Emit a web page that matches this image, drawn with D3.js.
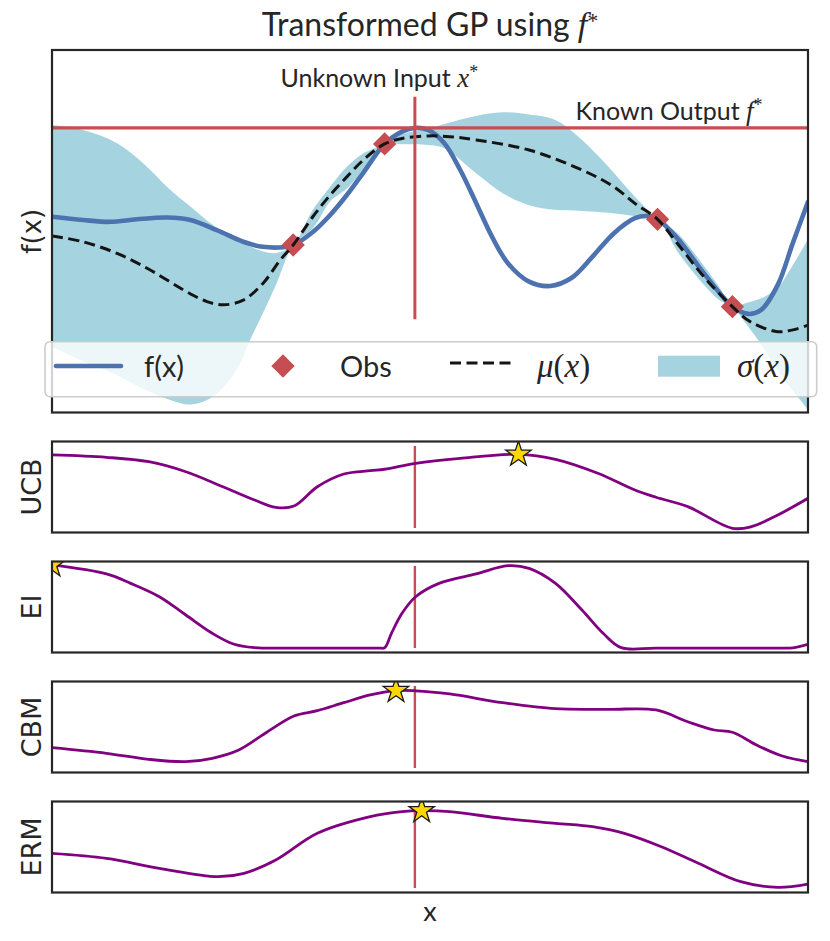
<!DOCTYPE html>
<html>
<head>
<meta charset="utf-8">
<script src="https://cdn.jsdelivr.net/npm/d3@7"></script>
<style>
  body { margin: 0; background: #fff; }
  svg { display: block; }
</style>
</head>
<body>
<div id="chart"></div>
<script>
// ---- data (x in [0,10], y in panel units [0,10]) ----
const fTrue = [[0,5.40],[0.41,5.31],[0.77,5.26],[1.12,5.33],[1.52,5.38],[1.83,5.31],[2.18,5.03],
  [2.53,4.71],[2.79,4.57],[3.06,4.56],[3.19,4.62],[3.45,4.98],[3.68,5.45],[3.90,6.00],[4.12,6.62],
  [4.40,7.41],[4.63,7.75],[4.80,7.85],[4.98,7.79],[5.19,7.43],[5.40,6.69],[5.61,5.78],[5.82,4.85],
  [6.03,4.12],[6.31,3.61],[6.59,3.49],[6.87,3.71],[7.15,4.30],[7.43,4.94],[7.71,5.36],[7.88,5.42],
  [8.01,5.33],[8.27,4.81],[8.55,4.04],[8.83,3.30],[9.00,2.92],[9.21,2.72],[9.38,2.83],[9.60,3.52],
  [9.80,4.68],[10,5.81]];

const muPost = [[0,4.87],[0.41,4.71],[0.86,4.39],[1.30,3.93],[1.74,3.38],[2.05,3.06],[2.27,2.97],
  [2.53,3.10],[2.79,3.56],[3.02,4.21],[3.19,4.62],[3.45,5.40],[3.68,6.00],[3.90,6.50],[4.12,6.97],
  [4.40,7.41],[4.63,7.56],[4.98,7.63],[5.26,7.61],[5.61,7.52],[6.31,7.24],[7.01,6.69],[7.43,6.23],
  [7.71,5.77],[8.01,5.33],[8.27,4.67],[8.62,3.75],[9.00,2.92],[9.24,2.50],[9.60,2.23],[9.80,2.28],
  [10,2.41]];

const bandX = [0,0.41,0.86,1.21,1.52,1.83,2.13,2.44,2.62,2.79,2.97,3.19,3.45,3.68,3.90,4.12,4.40,
  4.63,4.98,5.19,5.61,5.96,6.31,6.66,7.01,7.36,7.71,8.01,8.27,8.55,8.83,9.00,9.18,9.38,9.60,9.80,10];
const bandUpper = [7.93,7.79,7.43,6.87,6.23,5.68,5.17,4.78,4.58,4.44,4.40,4.62,5.59,6.23,6.78,7.15,7.41,
  7.68,7.82,7.96,8.18,8.28,8.22,8.07,7.52,6.78,5.95,5.33,4.95,4.25,3.45,2.92,3.02,3.15,3.45,4.07,4.78];
const bandLower = [1.81,1.42,1.03,0.65,0.38,0.22,0.44,1.17,2.00,2.74,3.56,4.62,5.08,5.82,6.18,6.69,7.41,
  7.40,7.38,7.29,6.60,6.05,5.72,5.59,5.56,5.51,5.42,5.33,4.45,3.70,3.10,2.92,2.45,1.88,1.15,0.60,0.08];

const obsPoints = [[3.19,4.62],[4.40,7.41],[8.01,5.33],[9.00,2.92]];
const fStar = 7.85;
const xStar = 4.80;
const xStarSpan = [2.57, 8.71];

const acqNames = ["UCB", "EI", "CBM", "ERM"];
const ucb = [[0,8.52],[0.72,8.26],[1.28,7.78],[1.77,6.68],[2.26,5.03],[2.68,3.57],[2.96,2.77],[3.20,2.91],
  [3.51,5.03],[3.86,6.43],[4.21,6.79],[4.40,6.95],[4.81,7.60],[5.40,8.15],[6.17,8.59],[6.66,8.04],
  [7.22,6.51],[7.71,4.67],[7.99,3.87],[8.41,2.84],[9.00,0.46],[9.25,0.64],[9.60,1.92],[10,3.76]];
const ei = [[0,9.62],[0.72,8.63],[1.04,7.60],[1.42,6.13],[1.77,4.12],[2.12,2.11],[2.40,0.93],[2.68,0.53],
  [3.24,0.49],[3.80,0.49],[4.32,0.49],[4.40,0.52],[4.49,2.11],[4.63,4.31],[4.81,6.13],[5.12,7.60],
  [5.61,8.63],[6.03,9.54],[6.31,9.25],[6.66,7.60],[7.01,4.67],[7.29,2.11],[7.53,0.53],[7.99,0.49],
  [8.80,0.49],[9.60,0.49],[9.80,0.52],[10,0.90]];
const cbm = [[0,2.73],[0.72,2.11],[1.28,1.45],[1.77,1.19],[2.12,1.56],[2.47,2.47],[2.82,4.31],[3.20,6.21],
  [3.51,6.79],[3.86,7.67],[4.21,8.52],[4.55,9.00],[4.81,8.98],[5.26,8.63],[5.96,7.67],[6.66,7.01],
  [7.36,6.94],[7.99,6.87],[8.41,5.58],[8.76,4.67],[9.00,4.42],[9.32,3.02],[9.66,1.81],[10,1.19]];
const erm = [[0,4.30],[0.72,3.75],[1.42,2.66],[2.19,1.74],[2.54,2.11],[2.96,3.57],[3.51,6.50],[4.21,8.33],
  [4.63,8.88],[4.89,8.99],[5.26,8.88],[5.96,8.15],[6.66,7.60],[7.15,7.23],[7.57,6.50],[8.06,5.03],
  [8.55,3.21],[9.11,1.19],[9.60,0.57],[10,0.93]];
const acqSeries = [ucb, ei, cbm, erm];

// ---- layout ----
const width = 830, height = 941;
const plotLeft = 52, plotRight = 808;
const mainTop = 50, mainBottom = 412.5;
const subTops = [441.5, 561.5, 681.5, 801.5];
const subHeight = 91;

const ink = "#262626";
const red = "#c44e52";
const blue = "#4c72b0";
const bandColor = "#a5d4e0";
const purple = "#800080";
const sansTex = "Lato, 'Open Sans', sans-serif";
const serifMath = "'Liberation Serif', 'DejaVu Serif', serif";
const smooth = d3.curveCatmullRom.alpha(0.5);

const svg = d3.select("#chart").append("svg")
  .attr("width", width).attr("height", height)
  .attr("viewBox", `0 0 ${width} ${height}`);

const x = d3.scaleLinear().domain([0, 10]).range([plotLeft, plotRight]);
const yMain = d3.scaleLinear().domain([0, 10]).range([mainBottom, mainTop]);

const defs = svg.append("defs");
function addClip(id, y0, h) {
  defs.append("clipPath").attr("id", id)
    .append("rect").attr("x", plotLeft).attr("y", y0)
    .attr("width", plotRight - plotLeft).attr("height", h);
}

// writes a text made of plain and math parts
function mathText(parent, px, py, parts, anchor) {
  const t = parent.append("text")
    .attr("x", px).attr("y", py)
    .attr("text-anchor", anchor || "start")
    .attr("fill", ink);
  parts.forEach(p => {
    const s = t.append("tspan").text(p.t)
      .attr("font-family", p.math ? serifMath : sansTex)
      .attr("font-size", p.size);
    if (p.italic) s.attr("font-style", "italic");
    if (p.dy) s.attr("dy", p.dy);
  });
  return t;
}

// ---- title ----
mathText(svg, 430, 36, [
  { t: "Transformed GP using ", size: 32 },
  { t: "f", math: true, italic: true, size: 34 },
  { t: "*", math: true, size: 22, dy: -8 }
], "middle");

// ---- main panel ----
addClip("clip-main", mainTop, mainBottom - mainTop);
const main = svg.append("g").attr("clip-path", "url(#clip-main)");

const band = d3.area()
  .x((d, i) => x(bandX[i]))
  .y0((d, i) => yMain(bandLower[i]))
  .y1((d, i) => yMain(bandUpper[i]))
  .curve(smooth);
main.append("path").datum(bandX).attr("d", band).attr("fill", bandColor);

const lineMain = d3.line().x(d => x(d[0])).y(d => yMain(d[1])).curve(smooth);

main.append("path").datum(fTrue).attr("d", lineMain)
  .attr("fill", "none").attr("stroke", blue).attr("stroke-width", 4.6)
  .attr("stroke-linecap", "round");

const diamond = d3.symbol(d3.symbolSquare, 272)();
main.selectAll(".obs").data(obsPoints).enter().append("path")
  .attr("class", "obs")
  .attr("d", diamond)
  .attr("transform", d => `translate(${x(d[0])},${yMain(d[1])}) rotate(45)`)
  .attr("fill", red);

main.append("path").datum(muPost).attr("d", lineMain)
  .attr("fill", "none").attr("stroke", "#141414").attr("stroke-width", 3)
  .attr("stroke-dasharray", "11 5.5");

main.append("line")
  .attr("x1", x(0)).attr("x2", x(10))
  .attr("y1", yMain(fStar)).attr("y2", yMain(fStar))
  .attr("stroke", red).attr("stroke-width", 3.2);
main.append("line")
  .attr("x1", x(xStar)).attr("x2", x(xStar))
  .attr("y1", yMain(xStarSpan[0])).attr("y2", yMain(xStarSpan[1]))
  .attr("stroke", red).attr("stroke-width", 3);

mathText(svg, 280.5, 87, [
  { t: "Unknown Input ", size: 25 },
  { t: "x", math: true, italic: true, size: 27 },
  { t: "*", math: true, size: 18, dy: -9 }
]);
mathText(svg, 575.5, 120, [
  { t: "Known Output ", size: 25 },
  { t: "f", math: true, italic: true, size: 27 },
  { t: "*", math: true, size: 18, dy: -9 }
]);

svg.append("rect")
  .attr("x", plotLeft).attr("y", mainTop)
  .attr("width", plotRight - plotLeft).attr("height", mainBottom - mainTop)
  .attr("fill", "none").attr("stroke", ink).attr("stroke-width", 2.2);

svg.append("text")
  .attr("transform", `translate(41,${(mainTop + mainBottom) / 2}) rotate(-90)`)
  .attr("text-anchor", "middle")
  .attr("font-family", "'DejaVu Sans', sans-serif").attr("font-size", 26)
  .attr("fill", ink).text("f(x)");

// ---- legend ----
const legend = svg.append("g");
legend.append("rect")
  .attr("x", 45).attr("y", 341.7).attr("width", 771.7).attr("height", 55)
  .attr("rx", 5).attr("fill", "#fff").attr("fill-opacity", 0.8)
  .attr("stroke", "#cccccc").attr("stroke-width", 1.6);
legend.append("line").attr("x1", 56).attr("x2", 121).attr("y1", 366).attr("y2", 366)
  .attr("stroke", blue).attr("stroke-width", 4.6).attr("stroke-linecap", "round");
mathText(legend, 144, 377, [{ t: "f(x)", size: 29 }]);
legend.append("path").attr("d", diamond)
  .attr("transform", "translate(283,366) rotate(45)").attr("fill", red);
mathText(legend, 340, 377, [{ t: "Obs", size: 29 }]);
legend.append("line").attr("x1", 450).attr("x2", 513).attr("y1", 363).attr("y2", 363)
  .attr("stroke", "#141414").attr("stroke-width", 3).attr("stroke-dasharray", "11 5.5");
mathText(legend, 537, 377, [
  { t: "μ", math: true, italic: true, size: 33 },
  { t: "(", math: true, size: 33 },
  { t: "x", math: true, italic: true, size: 33 },
  { t: ")", math: true, size: 33 }
]);
legend.append("rect").attr("x", 658).attr("y", 355.7).attr("width", 62).attr("height", 21)
  .attr("fill", bandColor);
mathText(legend, 737, 377, [
  { t: "σ", math: true, italic: true, size: 33 },
  { t: "(", math: true, size: 33 },
  { t: "x", math: true, italic: true, size: 33 },
  { t: ")", math: true, size: 33 }
]);

// ---- acquisition panels ----
const star = d3.symbol(d3.symbolStar, 200)();
acqSeries.forEach((series, k) => {
  const top = subTops[k], bottom = top + subHeight;
  const y = d3.scaleLinear().domain([0, 10]).range([bottom, top]);
  const id = "clip-" + acqNames[k];
  addClip(id, top, subHeight);
  const g = svg.append("g").attr("clip-path", `url(#${id})`);

  g.append("line")
    .attr("x1", x(xStar)).attr("x2", x(xStar))
    .attr("y1", bottom - 0.05 * subHeight).attr("y2", top + 0.05 * subHeight)
    .attr("stroke", red).attr("stroke-width", 2.4);

  const line = d3.line().x(d => x(d[0])).y(d => y(d[1])).curve(smooth);
  g.append("path").datum(series).attr("d", line)
    .attr("fill", "none").attr("stroke", purple).attr("stroke-width", 2.8);

  const best = series[d3.greatestIndex(series, d => d[1])];
  g.append("path").attr("d", star)
    .attr("transform", `translate(${x(best[0])},${y(best[1])})`)
    .attr("fill", "#ffd700").attr("stroke", "#1a1a1a").attr("stroke-width", 1.3);

  svg.append("rect")
    .attr("x", plotLeft).attr("y", top)
    .attr("width", plotRight - plotLeft).attr("height", subHeight)
    .attr("fill", "none").attr("stroke", ink).attr("stroke-width", 2.2);

  svg.append("text")
    .attr("transform", `translate(41,${top + subHeight / 2}) rotate(-90)`)
    .attr("text-anchor", "middle")
    .attr("font-family", "'DejaVu Sans', sans-serif").attr("font-size", 27)
    .attr("fill", ink).text(acqNames[k]);
});

svg.append("text")
  .attr("x", (plotLeft + plotRight) / 2).attr("y", 921)
  .attr("text-anchor", "middle")
  .attr("font-family", sansTex).attr("font-size", 27)
  .attr("fill", ink).text("x");
</script>
</body>
</html>
